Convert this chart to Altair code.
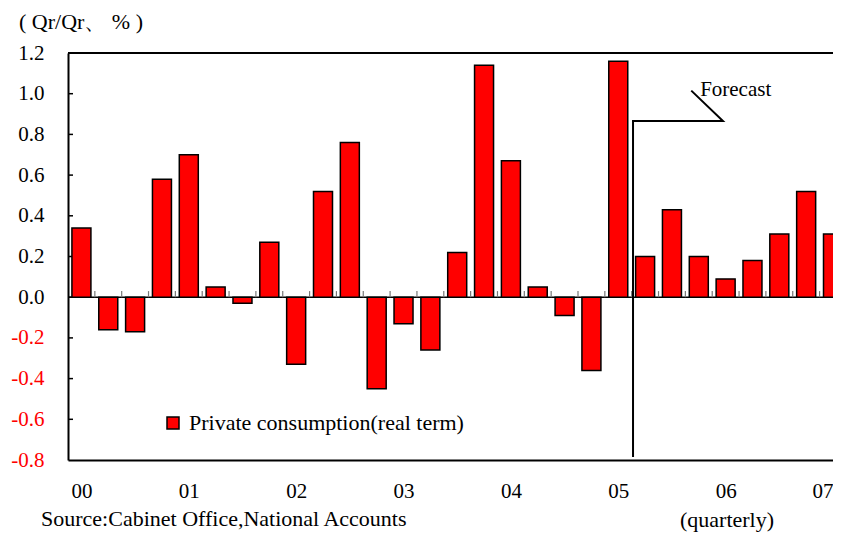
import altair as alt
import pandas as pd

FONT = "Liberation Serif"

years = ["00", "01", "02", "03", "04", "05", "06", "07"]
values = [0.34, -0.16, -0.17, 0.58, 0.70, 0.05, -0.03, 0.27, -0.33, 0.52,
          0.76, -0.45, -0.13, -0.26, 0.22, 1.14, 0.67, 0.05, -0.09, -0.36,
          1.16, 0.20, 0.43, 0.20, 0.09, 0.18, 0.31, 0.52, 0.31]
series_name = "Private consumption(real term)"
y_ticks = [-0.8, -0.6, -0.4, -0.2, 0.0, 0.2, 0.4, 0.6, 0.8, 1.0, 1.2]
forecast_x = [20.55, 20.55, 23.9, 22.72]
forecast_y = [-0.785, 0.866, 0.866, 1.015]
forecast_label = "Forecast"
title_text = "( Qr/Qr、 % )"
source_text = "Source:Cabinet Office,National Accounts"
period_text = "(quarterly)"

n = len(values)
df = pd.DataFrame({"idx": list(range(n)), "value": values, "series": [series_name] * n})
df_bound = pd.DataFrame({"b": [k + 0.5 for k in range(n - 1)], "y0": [0.0] * (n - 1), "y1": [0.03] * (n - 1)})
df_fc = pd.DataFrame({"fx": forecast_x, "fy": forecast_y, "o": list(range(len(forecast_x)))})
df_inner = pd.DataFrame({"t": y_ticks[1:-1]})

xscale = alt.Scale(domain=[-0.5, 28.0], nice=False, zero=False, padding=0)
yscale = alt.Scale(domain=[-0.8, 1.2], nice=False, zero=False, padding=0)

label_expr = "[" + ",".join("'%s'" % y for y in years) + "][round(datum.value/4)]"
last_q = (len(years) - 1) * 4

x_axis = alt.Axis(values=list(range(0, n, 4)), labelExpr=label_expr, title=None,
                  grid=False, ticks=False, tickSize=0, domainColor="black",
                  domainWidth=2, labelFont=FONT, labelFontSize=21, labelColor="black",
                  labelPadding=31, labelBaseline="middle", labelFlush=False,
                  labelOverlap=False, labelBound=False,
                  labelAlign=alt.condition("datum.value >= %d" % last_q, alt.value("right"), alt.value("center")))
y_axis = alt.Axis(values=y_ticks, title=None, grid=False, ticks=False,
                  labelExpr="(datum.value < 0 ? '-' : '') + format(abs(datum.value), '.1f')",
                  tickSize=0, domainColor="black", domainWidth=2, labelFont=FONT,
                  labelFontSize=21, labelPadding=24, labelFlush=False, labelOverlap=False,
                  labelColor=alt.condition("datum.value < 0", alt.value("#ff0000"), alt.value("black")))

zero_line = alt.Chart(pd.DataFrame({"y": [0.0]})).mark_rule(color="black", strokeWidth=1.5).encode(
    y=alt.Y("y:Q", scale=yscale, axis=y_axis))
top_line = alt.Chart(pd.DataFrame({"y": [1.2]})).mark_rule(color="black", strokeWidth=2).encode(
    y=alt.Y("y:Q", scale=yscale))
inner_ticks = alt.Chart(df_inner).mark_rule(color="black", strokeWidth=1.5).encode(
    y=alt.Y("t:Q", scale=yscale), x=alt.value(0), x2=alt.value(5))
bound_ticks = alt.Chart(df_bound).mark_rule(color="#777777", strokeWidth=1.2, clip=True).encode(
    x=alt.X("b:Q", scale=xscale), y=alt.Y("y0:Q", scale=yscale), y2="y1:Q")

bars = alt.Chart(df).mark_bar(size=19, stroke="black", strokeWidth=1.5, clip=True).encode(
    x=alt.X("idx:Q", scale=xscale, axis=x_axis),
    y=alt.Y("value:Q", scale=yscale),
    color=alt.Color("series:N", scale=alt.Scale(range=["#ff0000"]),
                    legend=alt.Legend(orient="none", legendX=94, legendY=359, title=None,
                                      symbolType="square", symbolSize=144,
                                      symbolStrokeColor="black", symbolStrokeWidth=1.5,
                                      labelFont=FONT, labelFontSize=22, labelColor="black",
                                      labelOffset=5, padding=0, labelLimit=0)),
)

fc_line = alt.Chart(df_fc).mark_line(color="black", strokeWidth=2).encode(
    x=alt.X("fx:Q", scale=xscale), y=alt.Y("fy:Q", scale=yscale), order="o:Q")
fc_text = alt.Chart(pd.DataFrame({"x": [23.05], "y": [1.019], "t": [forecast_label]})).mark_text(
    align="left", baseline="middle", font=FONT, fontSize=21, color="black").encode(
    x=alt.X("x:Q", scale=xscale), y=alt.Y("y:Q", scale=yscale), text="t:N")

def note(txt, px, py):
    return alt.Chart(pd.DataFrame({"t": [txt]})).mark_text(
        align="left", baseline="middle", font=FONT, fontSize=22, color="black").encode(
        x=alt.value(px), y=alt.value(py), text="t:N")

chart = alt.layer(
    zero_line, top_line, inner_ticks, bound_ticks, bars, fc_line, fc_text,
    note(title_text, -49, -31), note(source_text, -27, 466), note(period_text, 612, 467),
).properties(
    width=765, height=407,
    autosize=alt.AutoSizeParams(type="none"),
    padding={"left": 60, "top": 45, "right": 0, "bottom": 73},
).configure_view(stroke=None)

chart.save("out.html", embed_options={"renderer": "svg", "actions": False})
